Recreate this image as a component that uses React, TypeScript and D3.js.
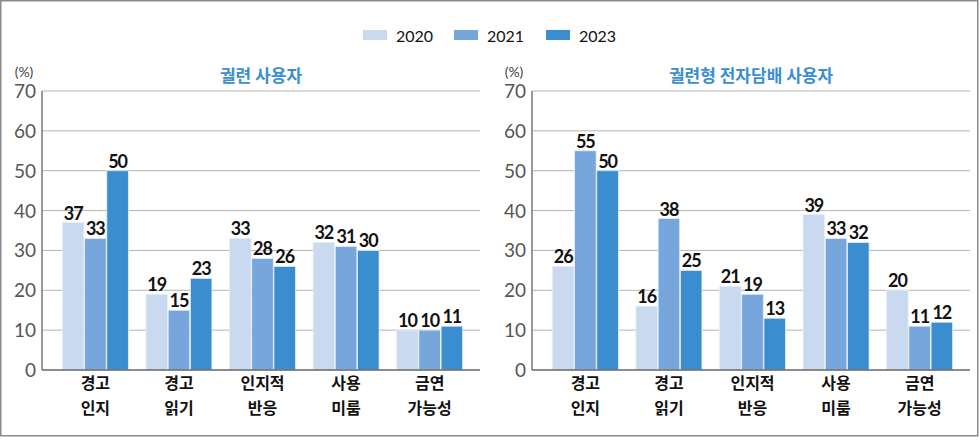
import * as d3 from "d3";

const categories = [["경고", "인지"], ["경고", "읽기"], ["인지적", "반응"], ["사용", "미룸"], ["금연", "가능성"]];
const years = ["2020", "2021", "2023"];
const colors = ["#c9daf0", "#76a6db", "#3a8ecf"];
const yTicks = [0, 10, 20, 30, 40, 50, 60, 70];

const cigaretteValues = [
    [37, 19, 33, 32, 10],
    [33, 15, 28, 31, 10],
    [50, 23, 26, 30, 11],
];
const eCigValues = [
    [26, 16, 21, 39, 20],
    [55, 38, 19, 33, 11],
    [50, 25, 13, 32, 12],
];

const panels = [
    { title: "궐련 사용자", values: cigaretteValues, left: 0 },
    { title: "궐련형 전자담배 사용자", values: eCigValues, left: 490 },
];

const W = 980;
const H = 440;
const plotTop = 91;
const plotBottom = 370;
const axisX = 42;
const plotRight = 480;

const numFont = "Lato, 'Noto Sans', sans-serif";
const korFont = "'Noto Sans CJK KR', 'Noto Sans', sans-serif";

function Panel({ title, values, left }: { title: string; values: number[][]; left: number }) {
    const y = d3.scaleLinear().domain([0, 70]).range([plotBottom, plotTop]);
    const x = d3.scaleBand<number>()
        .domain(d3.range(categories.length))
        .range([axisX + 12, plotRight - 9])
        .paddingInner(0.21)
        .paddingOuter(0.1);
    const inner = d3.scaleBand<number>()
        .domain(d3.range(years.length))
        .range([0, x.bandwidth()])
        .paddingInner(0.03);

    return (
        <g transform={`translate(${left},0)`}>
            <text x={(axisX + plotRight) / 2} y={82} textAnchor="middle" fontFamily={korFont}
                  fontWeight={700} fontSize={17} fill="#3b8fd0">{title}</text>
            <text x={24} y={77} textAnchor="middle" fontFamily={numFont} fontSize={14} fill="#444">(%)</text>
            {yTicks.map(t => (
                <g key={t}>
                    {t > 0 && <line x1={axisX} x2={plotRight} y1={y(t)} y2={y(t)} stroke="#b5b5b5" strokeWidth={1} />}
                    <text x={36} y={y(t) + 7} textAnchor="end" fontFamily={numFont} fontSize={19}
                          fontWeight={400} fill="#555">{t}</text>
                </g>
            ))}
            {values.map((series, s) =>
                series.map((v, i) => {
                    const bx = (x(i) || 0) + (inner(s) || 0);
                    return (
                        <g key={`${s}-${i}`}>
                            <rect x={bx} y={y(v)} width={inner.bandwidth()} height={plotBottom - y(v)}
                                  fill={colors[s]} stroke="#e6eef8" strokeWidth={0.8} />
                            <text x={bx + inner.bandwidth() / 2} y={y(v) - 3} textAnchor="middle"
                                  fontFamily={numFont} fontWeight={700} fontSize={18} letterSpacing={-1}
                                  fill="#111">{v}</text>
                        </g>
                    );
                })
            )}
            <line x1={axisX} x2={axisX} y1={plotTop} y2={plotBottom} stroke="#777" strokeWidth={1.5} />
            <line x1={axisX} x2={plotRight} y1={plotBottom} y2={plotBottom} stroke="#666" strokeWidth={1.5} />
            {categories.map((c, i) => (
                <text key={i} x={(x(i) || 0) + x.bandwidth() / 2} textAnchor="middle" fontFamily={korFont}
                      fontWeight={700} fontSize={16} fill="#111">
                    <tspan x={(x(i) || 0) + x.bandwidth() / 2} y={389}>{c[0]}</tspan>
                    <tspan x={(x(i) || 0) + x.bandwidth() / 2} y={414}>{c[1]}</tspan>
                </text>
            ))}
        </g>
    );
}

export default function App() {
    const legendX = [363, 454, 546];
    return (
        <svg width={W} height={H} style={{ position: "absolute", left: 0, top: 0, background: "#fff" }}>
            <rect x={0.75} y={0.75} width={W - 3} height={H - 5} fill="#fff" stroke="#8a8a8a" strokeWidth={1.5} />
            {years.map((yr, i) => (
                <g key={yr}>
                    <rect x={legendX[i]} y={30} width={24} height={10} fill={colors[i]} />
                    <text x={legendX[i] + 33} y={41.5} fontFamily={numFont} fontSize={16} fill="#111">{yr}</text>
                </g>
            ))}
            {panels.map(p => <Panel key={p.title} {...p} />)}
        </svg>
    );
}
